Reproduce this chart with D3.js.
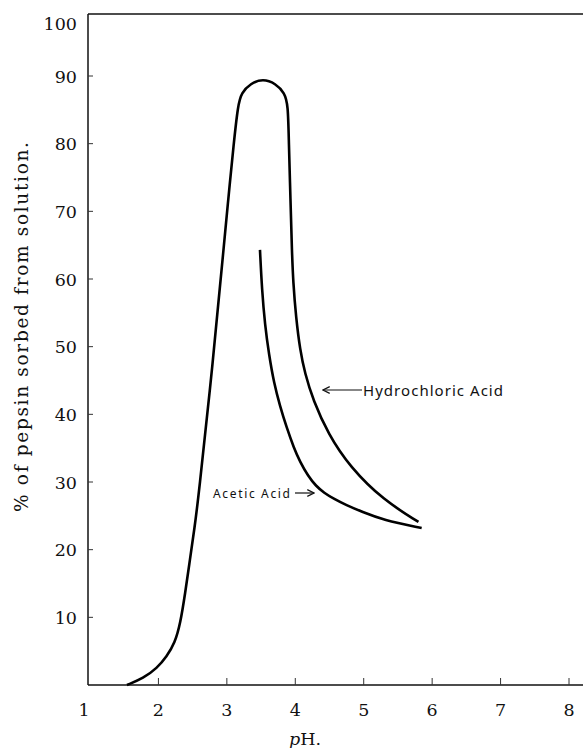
<!DOCTYPE html>
<html>
  <head>
    <meta charset="utf-8" />
    <title>Pepsin sorption vs pH</title>
    <script src="https://d3js.org/d3.v7.min.js" charset="utf-8"></script>
    <style>
      body { margin: 0; background: #fff; }
      .tick-label { font-family: "DejaVu Serif", serif; font-size: 17.5px; fill: #111; }
      .note { font-family: "Noto Sans", sans-serif; fill: #111; }
    </style>
  </head>
  <body>
    <svg id="canvas" width="583" height="748"></svg>
    <script>
      // hydrochloric acid curve (pH, % sorbed)
      var hclPH  = [1.54, 1.78, 1.98, 2.12, 2.24, 2.32, 2.39, 2.46, 2.53, 2.58, 2.80, 2.95, 3.02, 3.10, 3.163, 3.212, 3.345, 3.528, 3.711, 3.845, 3.894, 3.905, 3.93, 3.95, 3.97, 4.01, 4.07, 4.14, 4.26, 4.48, 4.80, 5.29, 5.80];
      var hclVal = [0, 1, 2.5, 4.2, 6.2, 9.1, 13.5, 18.5, 23.4, 27.3, 48, 64.3, 71.7, 80, 85.7, 87.5, 88.9, 89.6, 88.9, 87.5, 85.7, 80.5, 71.7, 64.3, 59.4, 54.4, 49.5, 46.1, 42.1, 37.1, 32.2, 27.3, 24.1];

      // acetic acid curve
      var aceticPH  = [3.484, 3.513, 3.557, 3.616, 3.689, 3.777, 3.872, 3.981, 4.069, 4.186, 4.303, 4.420, 4.566, 4.741, 4.975, 5.282, 5.847];
      var aceticVal = [64.3, 58.4, 53.2, 48.8, 44.6, 41.2, 38.1, 35.0, 33.0, 30.9, 29.4, 28.4, 27.5, 26.6, 25.6, 24.4, 23.2];

      var xTicks = [1, 2, 3, 4, 5, 6, 7, 8];
      var yTicks = [10, 20, 30, 40, 50, 60, 70, 80, 90, 100];

      var canvas = d3.select("#canvas");

      var x = d3.scaleLinear().domain([1, 8]).range([90, 569]);
      // old printed axis: the top is a little squeezed
      var y = d3.scaleLinear().domain([0, 90, 100]).range([685, 76, 14]);

      var axisLeft = 88, axisRight = 583;

      // frame lines
      canvas.append("line")
        .attr("x1", axisLeft).attr("x2", axisRight)
        .attr("y1", y(100)).attr("y2", y(100))
        .attr("stroke", "#111").attr("stroke-width", 1.5);
      canvas.append("line")
        .attr("x1", axisLeft).attr("x2", axisLeft)
        .attr("y1", y(100)).attr("y2", y(0))
        .attr("stroke", "#111").attr("stroke-width", 1.5);
      canvas.append("line")
        .attr("x1", axisLeft).attr("x2", axisRight)
        .attr("y1", y(0)).attr("y2", y(0))
        .attr("stroke", "#111").attr("stroke-width", 1.5);

      // y ticks (inward)
      canvas.selectAll(".ytick")
        .data(yTicks.filter(function (d) { return d < 100; }))
        .enter()
        .append("line")
        .attr("class", "ytick")
        .attr("x1", axisLeft).attr("x2", axisLeft + 5)
        .attr("y1", function (d) { return y(d); })
        .attr("y2", function (d) { return y(d); })
        .attr("stroke", "#333").attr("stroke-width", 1);

      canvas.selectAll(".ylab")
        .data(yTicks)
        .enter()
        .append("text")
        .attr("class", "tick-label")
        .attr("text-anchor", "end")
        .attr("x", 77)
        .attr("y", function (d) { return (d === 100 ? 23 : y(d)) + 6.5; })
        .text(function (d) { return d; });

      // x ticks (upward)
      canvas.selectAll(".xtick")
        .data(xTicks.filter(function (d) { return d > 1; }))
        .enter()
        .append("line")
        .attr("class", "xtick")
        .attr("x1", function (d) { return x(d); })
        .attr("x2", function (d) { return x(d); })
        .attr("y1", y(0)).attr("y2", y(0) - 7)
        .attr("stroke", "#333").attr("stroke-width", 1);

      canvas.selectAll(".xlab")
        .data(xTicks)
        .enter()
        .append("text")
        .attr("class", "tick-label")
        .attr("text-anchor", "middle")
        .attr("x", function (d) { return d === 1 ? 84 : x(d); })
        .attr("y", 716)
        .text(function (d) { return d; });

      // axis titles
      var xTitle = canvas.append("text")
        .attr("class", "tick-label")
        .attr("x", 305)
        .attr("y", 745)
        .attr("text-anchor", "middle");
      xTitle.append("tspan").attr("font-style", "italic").text("p");
      xTitle.append("tspan").text("H.");

      canvas.append("text")
        .attr("class", "tick-label")
        .attr("text-anchor", "middle")
        .attr("transform", "translate(28,327) rotate(-90)")
        .style("font-size", "18.5px")
        .attr("textLength", 370)
        .attr("lengthAdjust", "spacing")
        .text("% of pepsin sorbed from solution.");

      // curves (b-spline to smooth the hand-drawn look)
      var line = d3.line()
        .x(function (d) { return x(d[0]); })
        .y(function (d) { return y(d[1]); })
        .curve(d3.curveBasis);

      var hcl = d3.zip(hclPH, hclVal);
      var acetic = d3.zip(aceticPH, aceticVal);

      canvas.append("path")
        .datum(hcl)
        .attr("d", line)
        .attr("fill", "none")
        .attr("stroke", "#000")
        .attr("stroke-width", 2.6);

      canvas.append("path")
        .datum(acetic)
        .attr("d", line)
        .attr("fill", "none")
        .attr("stroke", "#000")
        .attr("stroke-width", 2.6);

      // arrow marker
      canvas.append("defs").append("marker")
        .attr("id", "head")
        .attr("viewBox", "0 0 10 10")
        .attr("refX", 9).attr("refY", 5)
        .attr("markerWidth", 7).attr("markerHeight", 7)
        .attr("orient", "auto")
        .append("path")
        .attr("d", "M1,1 L9,5 L1,9")
        .attr("fill", "none")
        .attr("stroke", "#111")
        .attr("stroke-width", 1.4);

      // labels
      canvas.append("line")
        .attr("x1", 362).attr("x2", 323)
        .attr("y1", 390).attr("y2", 390)
        .attr("stroke", "#111").attr("stroke-width", 1.2)
        .attr("marker-end", "url(#head)");
      canvas.append("text")
        .attr("class", "note")
        .attr("x", 363).attr("y", 396)
        .attr("font-size", 15)
        .attr("textLength", 140)
        .text("Hydrochloric Acid");

      canvas.append("text")
        .attr("class", "note")
        .attr("x", 213).attr("y", 498)
        .attr("font-size", 12)
        .attr("textLength", 77)
        .text("Acetic Acid");
      canvas.append("line")
        .attr("x1", 295).attr("x2", 314)
        .attr("y1", 493).attr("y2", 493)
        .attr("stroke", "#111").attr("stroke-width", 1.2)
        .attr("marker-end", "url(#head)");
    </script>
  </body>
</html>
